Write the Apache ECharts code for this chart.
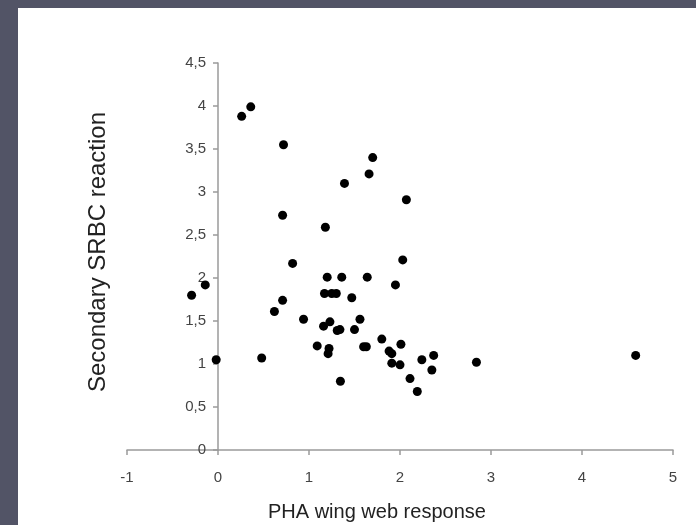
<!DOCTYPE html>
<html>
<head>
<meta charset="utf-8">
<script src="https://cdn.jsdelivr.net/npm/echarts@6/dist/echarts.min.js"></script>
<style>
  html, body { margin: 0; padding: 0; background: #525466; }
  #frame { position: relative; width: 696px; height: 525px; background: #525466; overflow: hidden; }
  #chart { position: absolute; left: 18px; top: 8px; width: 678px; height: 517px; background: #ffffff; }
</style>
</head>
<body>
<div id="frame"><div id="chart"></div></div>
<script>
// PHA wing web response (x) vs Secondary SRBC reaction (y)
const phaResponse = [0.26, 0.36, 0.72, 1.70, 1.66, 1.39, 2.07, 0.71, 1.18, 0.82,
  2.03, 1.20, 1.36, 1.64, 1.95, -0.29, -0.14, -0.02, 0.48, 0.62,
  0.71, 0.94, 1.09, 1.16, 1.17, 1.23, 1.25, 1.30, 1.22, 1.21,
  1.31, 1.34, 1.345, 1.47, 1.50, 1.56, 1.60, 1.63, 1.80, 1.88,
  1.91, 1.91, 2.00, 2.01, 2.11, 2.19, 2.24, 2.35, 2.37, 2.84, 4.59];
const srbcReaction = [3.88, 3.99, 3.55, 3.40, 3.21, 3.10, 2.91, 2.73, 2.59, 2.17,
  2.21, 2.01, 2.01, 2.01, 1.92, 1.80, 1.92, 1.05, 1.07, 1.61,
  1.74, 1.52, 1.21, 1.44, 1.82, 1.49, 1.82, 1.82, 1.18, 1.12,
  1.39, 1.40, 0.80, 1.77, 1.40, 1.52, 1.20, 1.20, 1.29, 1.15,
  1.12, 1.01, 0.99, 1.23, 0.83, 0.68, 1.05, 0.93, 1.10, 1.02, 1.10];
const xTitle = 'PHA wing web response';
const yTitle = 'Secondary SRBC reaction';

const points = phaResponse.map((x, i) => [x, srbcReaction[i]]);
const fmt = v => String(v).replace('.', ',');
const FONT = '"Liberation Sans", Arial, sans-serif';

const GRID_LEFT = 109, GRID_RIGHT = 23;
const X_MIN = -1, X_MAX = 5;
const chartW = 678;
// y axis sits at x = 0: shift it right from the grid's left edge
const yAxisShift = (chartW - GRID_LEFT - GRID_RIGHT) * (0 - X_MIN) / (X_MAX - X_MIN);

const chart = echarts.init(document.getElementById('chart'), null, { renderer: 'canvas' });
chart.setOption({
  animation: false,
  grid: { left: GRID_LEFT, right: GRID_RIGHT, top: 55, bottom: 75, containLabel: false },
  xAxis: {
    type: 'value', min: X_MIN, max: X_MAX, interval: 1,
    splitLine: { show: false },
    axisLine: { onZero: true, lineStyle: { color: '#9a9a9a', width: 1.5 } },
    axisTick: { show: true, length: 5, inside: false, lineStyle: { color: '#9a9a9a', width: 1.5 } },
    axisLabel: { margin: 20, fontSize: 15, color: '#444', fontFamily: FONT, formatter: fmt }
  },
  yAxis: {
    type: 'value', min: 0, max: 4.5, interval: 0.5,
    offset: -yAxisShift,
    splitLine: { show: false },
    axisLine: { show: true, onZero: false, lineStyle: { color: '#9a9a9a', width: 1.5 } },
    axisTick: { show: true, length: 5, inside: false, lineStyle: { color: '#9a9a9a', width: 1.5 } },
    axisLabel: { margin: 12, fontSize: 15, color: '#444', fontFamily: FONT, formatter: fmt }
  },
  graphic: [
    { type: 'text', left: 250, top: 494, style: { text: xTitle, fontSize: 20, fontFamily: FONT, fill: '#222' } },
    { type: 'text', x: 80, y: 244, rotation: Math.PI / 2, originX: 0, originY: 0,
      style: { text: yTitle, fontSize: 24, fontFamily: FONT, fill: '#222', align: 'center', verticalAlign: 'middle' } }
  ],
  series: [{
    type: 'scatter',
    data: points,
    symbol: 'circle',
    symbolSize: 9,
    itemStyle: { color: '#000', opacity: 1 }
  }]
});
</script>
</body>
</html>
